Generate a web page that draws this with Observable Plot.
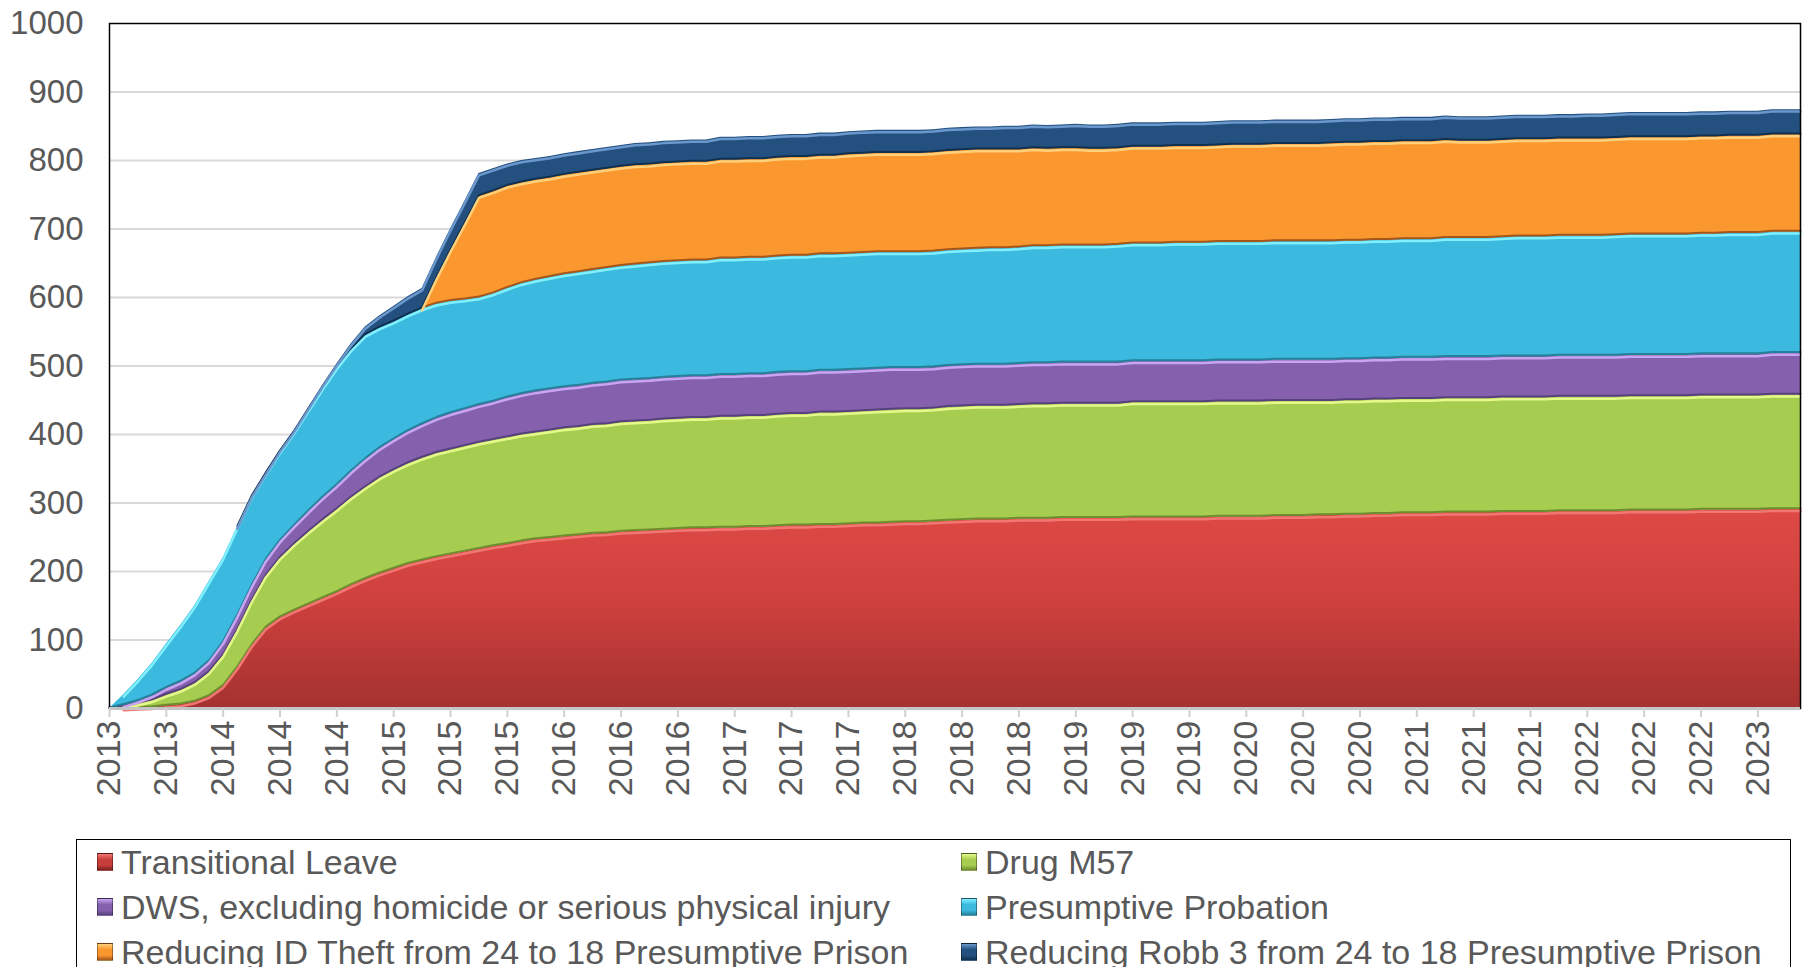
<!DOCTYPE html>
<html>
<head>
<meta charset="utf-8">
<script src="https://cdn.jsdelivr.net/npm/d3@7"></script>
<script src="https://cdn.jsdelivr.net/npm/@observablehq/plot@0.6"></script>
<style>
html,body{margin:0;padding:0;background:#fff;overflow:hidden;}
body{width:1805px;height:967px;position:relative;font-family:"Liberation Sans",Arial,sans-serif;}
#chart{position:absolute;left:0;top:0;}
#legend{position:absolute;left:76px;top:839px;width:1715px;height:170px;border:1.5px solid #000;box-sizing:border-box;}
.item{position:absolute;height:40px;display:flex;align-items:center;font-size:34px;color:#595959;white-space:nowrap;}
.sw{width:16px;height:18px;margin-right:8px;box-sizing:border-box;border:1px solid rgba(0,0,0,0.35);}
#defs{position:absolute;width:0;height:0;overflow:hidden;}
</style>
</head>
<body>
<svg id="defs" width="0" height="0">
  <defs>
    <linearGradient id="gRed" x1="0" y1="0" x2="0" y2="1">
      <stop offset="0" stop-color="#de4a46"/>
      <stop offset="0.45" stop-color="#cf413e"/>
      <stop offset="1" stop-color="#a43230"/>
    </linearGradient>
  </defs>
</svg>
<div id="chart"></div>
<div id="legend"></div>
<script>
// month index 0 = Jul 2013 ... 119 = Jun 2023
const months = d3.range(120);
const tickLabels = ["2013","2013","2014","2014","2014","2015","2015","2015","2016","2016","2016","2017","2017","2017","2018","2018","2018","2019","2019","2019","2020","2020","2020","2021","2021","2021","2022","2022","2022","2023"];
const seriesNames = ["Transitional Leave","Drug M57","DWS, excluding homicide or serious physical injury","Presumptive Probation","Reducing ID Theft from 24 to 18 Presumptive Prison","Reducing Robb 3 from 24 to 18 Presumptive Prison"];

const transitionalLeave = [0,0,1,2,4,6,10,18,33,60,
 92,118,133,143,152,161,170,180,189,197,
 204,211,216,221,225,229,233,237,240,244,
 247,249,251,253,255,256,258,259,260,261,
 262,263,263,264,264,265,265,266,267,267,
 268,268,269,270,270,271,272,272,273,274,
 275,276,276,276,277,277,277,278,278,278,
 278,278,279,279,279,279,279,279,280,280,
 280,280,281,281,281,282,282,283,283,284,
 284,285,285,285,286,286,286,286,287,287,
 287,287,288,288,288,288,288,289,289,289,
 289,289,290,290,290,290,290,291,291,291];

const drugM57 = [0,3,6,10,16,21,27,35,45,55,
 65,76,87,97,106,114,121,128,134,140,
 144,147,150,152,153,154,155,155,156,156,
 156,157,158,158,159,159,160,160,160,161,
 161,161,161,162,162,162,162,163,163,163,
 164,164,164,164,165,165,165,165,165,166,
 166,166,166,166,166,167,167,167,167,167,
 167,167,168,168,168,168,168,168,168,168,
 168,168,168,168,168,167,167,167,167,167,
 167,167,167,167,167,167,167,167,167,167,
 167,167,167,167,167,167,167,167,167,167,
 167,167,167,167,167,167,167,167,167,167];

const dws = [0,2,4,7,10,12,14,16,19,21,
 22,23,25,27,30,33,35,38,41,43,
 45,47,49,51,53,54,55,56,58,59,
 60,60,60,60,60,61,61,61,61,61,
 61,61,61,61,61,61,61,61,61,61,
 61,61,61,61,61,61,60,60,60,60,
 60,60,60,60,60,60,60,60,60,60,
 60,60,60,60,60,60,60,60,60,60,
 60,60,60,60,60,60,60,60,60,60,
 60,60,60,60,60,60,60,60,60,60,
 60,60,60,60,60,60,60,60,60,60,
 60,60,60,60,60,60,60,61,61,61];

const presumptiveProbation = [0,15,31,47,64,82,99,116,123,129,
 130,126,130,137,148,160,172,178,181,176,
 172,170,169,167,164,160,157,158,160,162,
 163,164,165,166,166,167,167,168,169,169,
 169,169,169,170,170,170,170,170,170,170,
 170,170,170,170,170,169,169,169,169,169,
 169,169,170,170,170,171,171,171,171,171,
 171,172,172,172,172,173,173,173,173,173,
 173,173,173,173,173,173,173,173,173,173,
 173,173,173,173,174,174,174,174,174,175,
 175,175,175,175,175,175,176,176,176,176,
 176,176,176,176,177,177,177,177,177,177];

const idTheft = [0,0,0,0,0,0,0,0,0,0,
 0,0,0,0,0,0,0,0,0,0,
 0,0,0,37,74,111,148,149,149,147,
 146,145,145,145,145,145,145,145,144,144,
 144,144,144,144,144,144,144,144,144,144,
 144,144,145,145,145,145,145,145,145,145,
 145,145,144,144,143,143,142,142,142,141,
 141,141,141,141,141,141,141,141,141,142,
 142,142,142,142,142,142,143,143,143,143,
 143,143,143,143,143,142,142,142,142,142,
 142,142,142,142,142,142,142,142,142,142,
 142,142,142,142,142,142,142,142,142,142];

const robb3 = [0,0,0,0,0,0,0,0,0,0,
 1,1,2,2,3,4,5,8,12,17,
 22,26,29,30,31,32,33,33,32,32,
 31,31,31,31,31,31,31,32,32,32,
 32,32,32,33,33,33,33,33,33,33,
 33,33,33,33,33,33,33,33,33,33,
 33,33,33,34,34,34,34,34,35,35,
 35,35,35,35,35,35,35,35,35,35,
 35,35,35,35,35,35,35,35,35,35,
 35,35,35,35,35,35,35,35,35,35,
 35,35,35,35,36,36,36,36,36,36,
 36,36,36,36,36,36,36,36,36,36];

const valuesBySeries = [transitionalLeave, drugM57, dws, presumptiveProbation, idTheft, robb3];

// styles
const fills = ["url(#gRed)", "#a6cc50", "#8561ad", "#3cb9de", "#fb972f", "#23507f"];
const swatch = ["#c83e3b", "#a6cc50", "#8561ad", "#3cb9de", "#fb972f", "#23507f"];
const hiColor = ["#f27773", "#e4f98a", "#c8a5f2", "#80f0ff", "#ffd07a", "#6b98cc"];
const edgeColor = ["#7a2220", "#6e8d2e", "#57407d", "#25809a", "#a5561a", "#10304f"];

const rows = months.map((m, i) => {
  const o = {m};
  seriesNames.forEach((s, k) => o[s] = valuesBySeries[k][i]);
  return o;
});
const stacked = d3.stack().keys(seriesNames)(rows);
const data = stacked.flatMap((layer, k) => layer.map((d, i) => ({
  series: seriesNames[k], k, m: months[i], v: valuesBySeries[k][i], y1: d[0], y2: d[1]
})));
const vis = d => {
  const a = valuesBySeries[d.k], i = d.m;
  return a[i] > 0 || (a[i + 1] || 0) > 0 || (i > 0 && a[i - 1] > 0);
};

const chart = Plot.plot({
  width: 1805,
  height: 830,
  marginTop: 23,
  marginBottom: 122,
  marginLeft: 109,
  marginRight: 5,
  style: {fontFamily: "'Liberation Sans', Arial, sans-serif", background: "transparent"},
  x: {type: "linear", domain: [0, 119], axis: null},
  y: {domain: [0, 1000], axis: null},
  color: {domain: seriesNames, range: fills},
  marks: [
    Plot.gridY(d3.range(100, 1000, 100), {stroke: "#d9d9d9", strokeOpacity: 1, strokeWidth: 2}),
    Plot.areaY(data, {x: "m", y1: "y1", y2: "y2", z: "series", fill: "series"}),
    Plot.lineY(data.filter(d => d.k > 0 && vis(d)), {x: "m", y: "y1", z: "series", stroke: d => edgeColor[d.k], strokeWidth: 2, dy: -1}),
    Plot.lineY(data.filter(d => vis(d) && d.m > 0), {x: "m", y: "y2", z: "series", stroke: d => hiColor[d.k], strokeWidth: 2.5, dy: 1.8}),
    Plot.frame({stroke: "#000", strokeWidth: 1.5}),
    Plot.ruleY([0], {stroke: "#c4c4c4", strokeWidth: 3}),
    Plot.axisY({ticks: d3.range(0, 1001, 100), tickFormat: d => String(d), tickSize: 0, tickPadding: 26, fontSize: 33, fill: "#595959", label: null}),
    Plot.axisX({ticks: d3.range(0, 117, 4), tickFormat: d => tickLabels[d / 4], tickRotate: -90, tickSize: 9, tickPadding: 3,
      fontSize: 34, stroke: "#d0d0d0", strokeWidth: 2, fill: "#595959", label: null})
  ]
});
document.getElementById("chart").appendChild(chart);

// legend
const legend = document.getElementById("legend");
const rowCenters = [22, 67, 112];
const colLeft = [20, 884];
seriesNames.forEach((s, k) => {
  const it = document.createElement("div");
  it.className = "item";
  it.style.left = colLeft[k % 2] + "px";
  it.style.top = (rowCenters[Math.floor(k / 2)] - 20) + "px";
  const sw = document.createElement("span");
  sw.className = "sw";
  sw.style.background = `linear-gradient(180deg, ${hiColor[k]} 0%, ${swatch[k]} 35%, ${swatch[k]} 70%, ${edgeColor[k]} 100%)`;
  it.appendChild(sw);
  const t = document.createElement("span");
  t.textContent = s;
  it.appendChild(t);
  legend.appendChild(it);
});
</script>
</body>
</html>
